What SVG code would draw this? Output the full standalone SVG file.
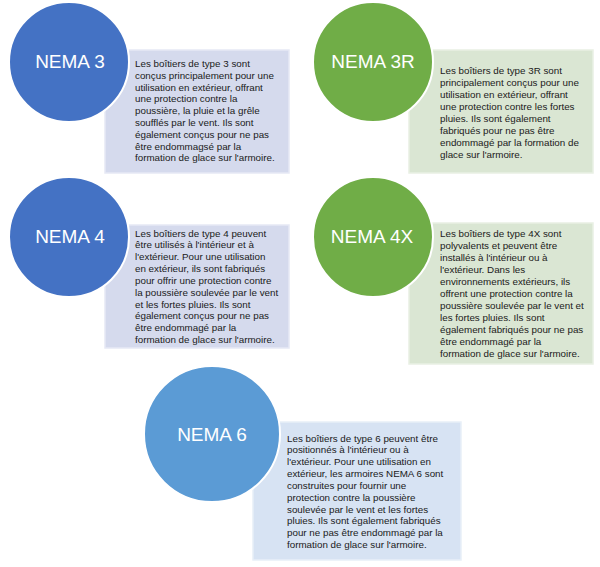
<svg xmlns="http://www.w3.org/2000/svg" width="600" height="567" viewBox="0 0 600 567">
<style>
.bg{fill:#ffffff}
.box{stroke-width:1.5}
.bb{fill:#d5daed;stroke:#e6e9f5}
.bg2{fill:#dae6d3;stroke:#e9f0e4}
.bl{fill:#d7e3f3;stroke:#e8eff8}
.circ{stroke:#ffffff;stroke-width:2}
.c1{fill:#4472c4}
.c2{fill:#70ad47}
.c3{fill:#5b9bd5}
.lbl{font-family:"Liberation Sans",Arial,sans-serif;font-size:19px;fill:#ffffff;text-anchor:middle}
.txt{font-family:"Liberation Sans",Arial,sans-serif;font-size:9.8px;fill:#1a1a1a}
</style>
<rect class="bg" x="0" y="0" width="600" height="567"/>
<g id="connectors"/>
<g id="nema3">
<rect class="box bb" x="105" y="50" width="184" height="123"/>
<circle class="circ c1" cx="69" cy="62" r="60"/>
<text class="lbl" x="70" y="68">NEMA 3</text>
<text class="txt" x="135" y="67">
<tspan x="135" dy="0">Les boîtiers de type 3 sont</tspan>
<tspan x="135" dy="11.8">conçus principalement pour une</tspan>
<tspan x="135" dy="11.8">utilisation en extérieur, offrant</tspan>
<tspan x="135" dy="11.8">une protection contre la</tspan>
<tspan x="135" dy="11.8">poussière, la pluie et la grêle</tspan>
<tspan x="135" dy="11.8">soufflés par le vent. Ils sont</tspan>
<tspan x="135" dy="11.8">également conçus pour ne pas</tspan>
<tspan x="135" dy="11.8">être endommagsé par la</tspan>
<tspan x="135" dy="11.8">formation de glace sur l'armoire.</tspan>
</text>
</g>
<g id="nema3r">
<rect class="box bg2" x="409" y="50" width="184" height="123"/>
<circle class="circ c2" cx="373" cy="62" r="60"/>
<text class="lbl" x="373" y="68">NEMA 3R</text>
<text class="txt" x="440" y="74">
<tspan x="440" dy="0">Les boîtiers de type 3R sont</tspan>
<tspan x="440" dy="12">principalement conçus pour une</tspan>
<tspan x="440" dy="12">utilisation en extérieur, offrant</tspan>
<tspan x="440" dy="12">une protection contre les fortes</tspan>
<tspan x="440" dy="12">pluies. Ils sont également</tspan>
<tspan x="440" dy="12">fabriqués pour ne pas être</tspan>
<tspan x="440" dy="12">endommagé par la formation de</tspan>
<tspan x="440" dy="12">glace sur l'armoire.</tspan>
</text>
</g>
<g id="nema4">
<rect class="box bb" x="105" y="225" width="184" height="123"/>
<circle class="circ c1" cx="69" cy="237" r="60"/>
<text class="lbl" x="70" y="243">NEMA 4</text>
<text class="txt" x="135" y="236.5">
<tspan x="135" dy="0">Les boîtiers de type 4 peuvent</tspan>
<tspan x="135" dy="11.85">être utilisés à l'intérieur et à</tspan>
<tspan x="135" dy="11.85">l'extérieur. Pour une utilisation</tspan>
<tspan x="135" dy="11.85">en extérieur, ils sont fabriqués</tspan>
<tspan x="135" dy="11.85">pour offrir une protection contre</tspan>
<tspan x="135" dy="11.85">la poussière soulevée par le vent</tspan>
<tspan x="135" dy="11.85">et les fortes pluies. Ils sont</tspan>
<tspan x="135" dy="11.85">également conçus pour ne pas</tspan>
<tspan x="135" dy="11.85">être endommagé par la</tspan>
<tspan x="135" dy="11.85">formation de glace sur l'armoire.</tspan>
</text>
</g>
<g id="nema4x">
<rect class="box bg2" x="409" y="223" width="184" height="141"/>
<circle class="circ c2" cx="373" cy="237" r="60"/>
<text class="lbl" x="372" y="243">NEMA 4X</text>
<text class="txt" x="440" y="236.5">
<tspan x="440" dy="0">Les boîtiers de type 4X sont</tspan>
<tspan x="440" dy="12">polyvalents et peuvent être</tspan>
<tspan x="440" dy="12">installés à l'intérieur ou à</tspan>
<tspan x="440" dy="12">l'extérieur. Dans les</tspan>
<tspan x="440" dy="12">environnements extérieurs, ils</tspan>
<tspan x="440" dy="12">offrent une protection contre la</tspan>
<tspan x="440" dy="12">poussière soulevée par le vent et</tspan>
<tspan x="440" dy="12">les fortes pluies. Ils sont</tspan>
<tspan x="440" dy="12">également fabriqués pour ne pas</tspan>
<tspan x="440" dy="12">être endommagé par la</tspan>
<tspan x="440" dy="12">formation de glace sur l'armoire.</tspan>
</text>
</g>
<g id="nema6">
<rect class="box bl" x="253" y="422" width="208" height="138"/>
<circle class="circ c3" cx="212" cy="434" r="68"/>
<text class="lbl" x="212" y="441">NEMA 6</text>
<text class="txt" x="287" y="441.5">
<tspan x="287" dy="0">Les boîtiers de type 6 peuvent être</tspan>
<tspan x="287" dy="11.85">positionnés à l'intérieur ou à</tspan>
<tspan x="287" dy="11.85">l'extérieur. Pour une utilisation en</tspan>
<tspan x="287" dy="11.85">extérieur, les armoires NEMA 6 sont</tspan>
<tspan x="287" dy="11.85">construites pour fournir une</tspan>
<tspan x="287" dy="11.85">protection contre la poussière</tspan>
<tspan x="287" dy="11.85">soulevée par le vent et les fortes</tspan>
<tspan x="287" dy="11.85">pluies. Ils sont également fabriqués</tspan>
<tspan x="287" dy="11.85">pour ne pas être endommagé par la</tspan>
<tspan x="287" dy="11.85">formation de glace sur l'armoire.</tspan>
</text>
</g>
</svg>
